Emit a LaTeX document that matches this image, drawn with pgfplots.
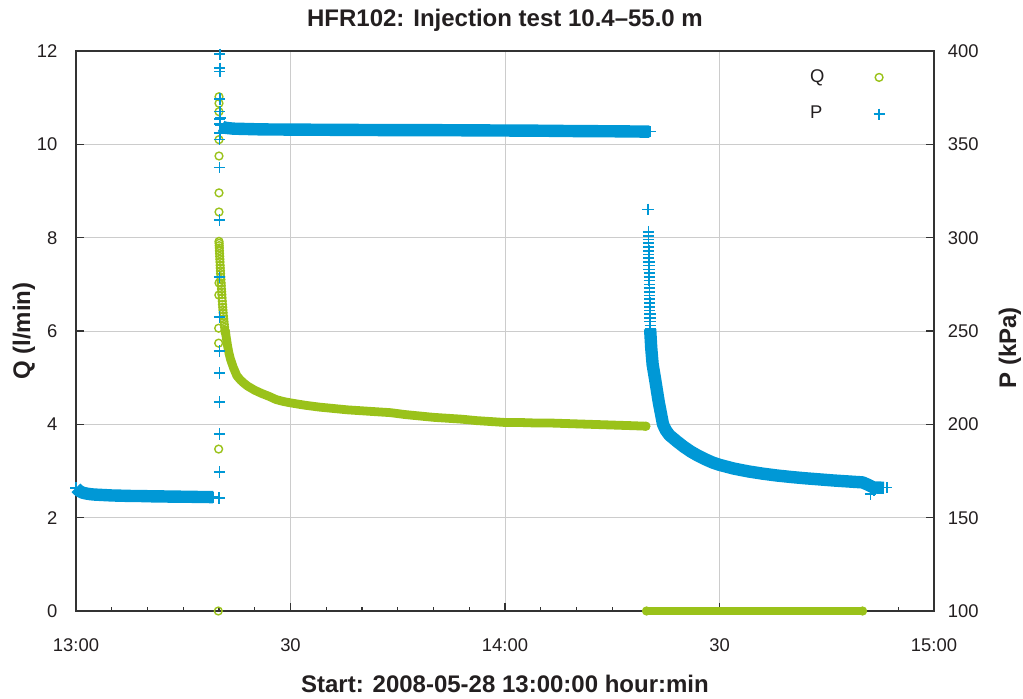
\documentclass[border=0pt]{standalone}
\usepackage{fontspec}
\setmainfont{Liberation Sans}
\usepackage{pgfplots}
\pgfplotsset{compat=1.18}
\definecolor{qgreen}{RGB}{154,194,26}
\definecolor{pblue}{RGB}{0,152,214}
\definecolor{txt}{RGB}{35,31,32}
\begin{document}
\begin{tikzpicture}
\pgfplotsset{
  common/.style={
    scale only axis, width=429pt, height=280pt,
    xmin=0, xmax=120, clip=false,
    tick align=inside, major tick length=3.9pt, minor tick length=2pt,
    /pgf/number format/assume math mode=true,
    tick label style={font=\fontsize{9.2}{11}\selectfont, text=txt},
    label style={font=\bfseries\fontsize{12}{14}\selectfont, text=txt},
    axis line style={-, line width=0.8pt, draw=black!80},
    tick style={line width=0.6pt, draw=black!80},
  },
  qmark/.style={only marks, mark=o, mark size=1.95pt, color=qgreen, mark options={line width=0.7pt}, forget plot},
  qband/.style={color=qgreen, line width=4.4pt, line cap=round, line join=round, forget plot},
  pmark/.style={only marks, mark=+, mark size=2.8pt, color=pblue, mark options={line width=0.8pt}, forget plot},
  pband/.style={color=pblue, line width=6.2pt, line cap=butt, line join=round, forget plot},
}
\begin{axis}[common,
  ymin=0, ymax=12,
  xtick={0,30,60,90,120}, xticklabels={13:00,30,14:00,30,15:00},
  minor x tick num=5,
  xtick pos=lower, ytick pos=left,
  ytick={0,2,4,6,8,10,12},
  grid=major, grid style={line width=0.5pt, draw=black!20},
  xticklabel style={yshift=-10.5pt},
  yticklabel style={xshift=-5.8pt},
  title={HFR102: Injection test 10.4--55.0 m},
  title style={at={(axis description cs:0.5,1)}, anchor=base, yshift=6.5pt, font=\bfseries\fontsize{12}{14}\selectfont, text=txt},
  xlabel={Start: 2008-05-28 13:00:00 hour:min},
  xlabel style={at={(axis description cs:0.5,0)}, anchor=base, yshift=-40.5pt},
  ylabel={Q (l/min)},
  ylabel style={at={(axis description cs:-0.0606,0.5)}, anchor=center},
  legend style={draw=none, fill=none, at={(axis description cs:0.950,0.982)}, anchor=north east,
    font=\fontsize{9.2}{11}\selectfont, text=txt, row sep=6.5pt, column sep=22.5pt},
  legend plot pos=right, legend cell align=left,
]
\coordinate (sw) at (rel axis cs:0,0);
\coordinate (ne) at (rel axis cs:1,1);
\addlegendimage{only marks, mark=o, mark size=1.95pt, color=qgreen, mark options={line width=0.7pt}}
\addlegendentry{Q}
\addlegendimage{only marks, mark=+, mark size=2.8pt, color=pblue, mark options={line width=0.8pt}}
\addlegendentry{P}
% Q: decaying injection flow
\addplot[qband] coordinates {
(20.9,6.00) (21.0,5.88) (21.2,5.68) (21.4,5.52) (21.6,5.40) (21.8,5.31) (22.0,5.22)
(22.5,5.04) (23.0,4.95) (23.5,4.88) (24.0,4.82) (25.0,4.73) (26.0,4.66) (27.0,4.60)
(28.0,4.53) (29.0,4.49) (30.0,4.46) (32.0,4.41) (34.0,4.37) (36.0,4.34) (38.0,4.31)
(40.0,4.29) (42.0,4.27) (44.0,4.25) (46.0,4.21) (48.0,4.18) (50.0,4.15) (52.0,4.13)
(54.0,4.11) (56.0,4.08) (58.0,4.06) (60.0,4.04) (62.0,4.04) (64.0,4.03) (66.0,4.03)
(68.0,4.02) (70.0,4.01) (72.0,4.00) (74.0,3.99) (76.0,3.98) (78.0,3.97) (79.7,3.96)
};
% Q: zero flow after shut-in
\addplot[qband] coordinates {(79.8,0) (90,0) (100,0) (110,0)};
% Q: steep start and scattered points
\addplot[qmark] coordinates {
(20.00,7.92) (20.02,7.88) (20.03,7.83) (20.05,7.78) (20.06,7.72) (20.08,7.66) (20.10,7.60)
(20.12,7.54) (20.14,7.48) (20.16,7.41) (20.18,7.35) (20.20,7.29) (20.22,7.23) (20.25,7.16)
(20.27,7.10) (20.30,7.03) (20.32,6.97) (20.35,6.90) (20.37,6.84) (20.40,6.78) (20.43,6.71)
(20.46,6.64) (20.49,6.57) (20.52,6.51) (20.55,6.45) (20.58,6.39) (20.62,6.32) (20.66,6.26)
(20.70,6.20) (20.74,6.14) (20.78,6.08) (20.83,6.02) (20.88,5.96)
(20.00,11.02) (20.00,10.88) (20.00,10.70) (20.00,10.10) (20.00,9.75) (20.00,8.96) (20.00,8.55)
(20.00,7.03) (19.98,6.77) (19.95,6.06) (19.95,5.74) (19.95,3.47) (19.90,0.00)
(79.7,3.96) (79.8,0) (110,0)
};
\end{axis}
\begin{axis}[common,
  ymin=100, ymax=400,
  ytick={100,150,200,250,300,350,400},
  axis x line=none, axis y line*=right,
  yticklabel style={xshift=3.4pt},
  ylabel={P (kPa)},
  ylabel style={at={(axis description cs:1.0886,0.47)}, anchor=center},
]
% P: before injection
\addplot[pband] coordinates {
(0.0,166.0) (0.2,165.2) (0.4,164.5) (0.6,164.0) (0.8,163.6) (1.0,163.3) (1.5,162.9)
(2.0,162.6) (2.5,162.4) (3.0,162.3) (4,162.1) (5,161.9) (6,161.8) (7,161.7) (8,161.6)
(9,161.6) (10,161.5) (11,161.4) (12,161.4) (13,161.3) (14,161.3) (15,161.2) (16,161.2)
(17,161.1) (18,161.1) (19.2,161.0)
};
% P: injection period
\addplot[pband] coordinates {
(20.3,359.8) (20.5,359.3) (21,358.8) (22,358.4) (24,358.2) (26,358.0) (30,357.9)
(35,357.8) (40,357.7) (45,357.6) (50,357.6) (55,357.5) (60,357.4) (65,357.3)
(70,357.1) (75,357.0) (80.2,356.8)
};
% P: recovery
\addplot[pband] coordinates {
(80.30,251) (80.45,241) (80.65,232) (81.0,224) (81.5,212) (82.1,200) (82.5,196.8)
(83,194.2) (84,191) (85,188) (86,185.4) (87,183.2) (88,181.3) (89,179.6) (90,178.3)
(92,176.3) (94,174.8) (96,173.6) (98,172.6) (100,171.8) (102,171.1) (104,170.5)
(106,169.9) (108,169.4) (110,168.9) (110.8,167.6) (111.5,166.2) (113.0,166.0)
};
\addplot[pmark] coordinates {
(0.0,166.0) (19.2,161.0) (20.0,160.5)
(20.05,174.5) (20.05,194.8) (20.05,212) (20.05,227.5) (20.05,239.3) (20.05,257.5)
(20.05,278.8) (20.05,309.5) (20.05,337.5) (20.08,352.5) (20.1,367.5) (20.1,374.3)
(20.1,389.0) (20.1,390.8) (20.1,398.3)
(20.1,363.5) (20.15,361) (20.2,364) (20.12,356) (20.2,360.5) (80.3,356.8)
(80.0,315.2)
(80.05,303) (80.06,301) (80.07,299) (80.08,297) (80.09,295) (80.10,293) (80.11,291)
(80.12,289) (80.13,287) (80.14,285) (80.15,283) (80.16,281) (80.17,279) (80.18,277)
(80.19,275) (80.20,273) (80.21,271) (80.22,269) (80.23,267) (80.24,265) (80.25,263)
(80.26,261) (80.27,259) (80.28,257) (80.29,255) (80.30,253) (80.31,251) (80.33,249)
(80.36,247) (80.39,245) (80.42,243) (80.45,241)
(111.1,162.6) (111.6,164.4) (113.4,166.1)
};
\end{axis}
\pgfresetboundingbox
\path[use as bounding box] ([shift={(-38pt,-43.5pt)}]sw) rectangle ([shift={(44.5pt,25.5pt)}]ne);
\end{tikzpicture}
\end{document}
